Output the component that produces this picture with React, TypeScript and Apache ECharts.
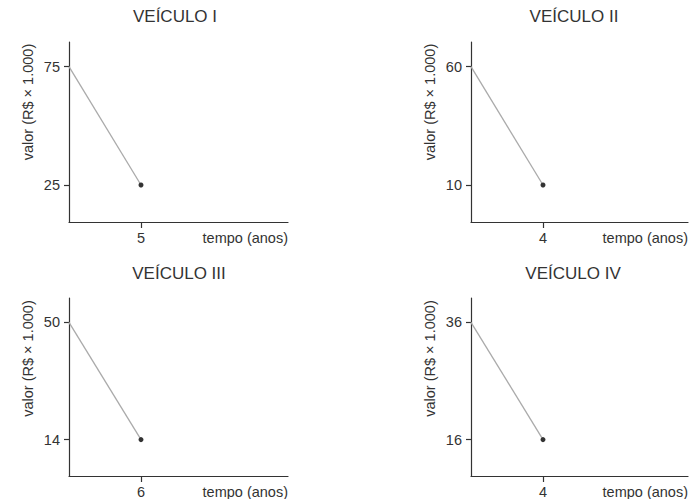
import React, { useEffect, useRef } from "react";
import * as echarts from "echarts";

const titles = ["VEÍCULO I", "VEÍCULO II", "VEÍCULO III", "VEÍCULO IV"];
const initialValues = [75, 60, 50, 36];
const finalValues = [25, 10, 14, 16];
const years = [5, 4, 6, 4];
const xAxisName = "tempo (anos)";
const yAxisName = "valor (R$ × 1.000)";

const gridLefts = [69, 471, 69, 471];
const gridTops = [42, 42, 298, 298];
const gridWidths = [219, 217, 219, 217];
const gridHeights = [180, 180, 181, 181];
const titleCenters = [175, 574, 179, 573];
const titleTops = [8, 8, 265, 265];

const FONT = "'Liberation Sans', Arial, sans-serif";
const TXT = "#333";
const TICK_PX = 72; // pixel distance of x tick from origin
const TOP_OFF = 24.7; // hi tick offset from grid top
const BOT_OFF = 37; // lo tick offset from grid bottom

export default function App() {
  const ref = useRef<HTMLDivElement>(null);
  useEffect(() => {
    document.body.style.margin = "0";
    const chart = echarts.init(ref.current!, null, { renderer: "svg" });
    const grids: any[] = [];
    const xAxes: any[] = [];
    const yAxes: any[] = [];
    const series: any[] = [];
    const title: any[] = [];
    const graphic: any[] = [];
    titles.forEach((t, i) => {
      const hi = initialValues[i];
      const lo = finalValues[i];
      const yr = years[i];
      const w = gridWidths[i];
      const h = gridHeights[i];
      const spanPx = h - TOP_OFF - BOT_OFF;
      const unit = (hi - lo) / spanPx;
      grids.push({ left: gridLefts[i], top: gridTops[i], width: w, height: h, containLabel: false });
      xAxes.push({
        type: "value",
        gridIndex: i,
        min: 0,
        max: (yr * w) / TICK_PX,
        splitLine: { show: false },
        axisLine: { show: true, onZero: false, lineStyle: { color: TXT, width: 1.2 } },
        axisTick: { show: true, length: 6, customValues: [yr], lineStyle: { color: TXT, width: 1.2 } },
        axisLabel: { customValues: [yr], color: TXT, fontSize: 14.5, fontFamily: FONT, margin: 8 },
        name: xAxisName,
        nameLocation: "end",
        nameGap: 0,
        nameTextStyle: {
          color: TXT,
          fontSize: 14.5,
          fontFamily: FONT,
          align: "right",
          verticalAlign: "top",
          padding: [8, 0, 0, 0],
        },
      });
      yAxes.push({
        type: "value",
        gridIndex: i,
        min: lo - BOT_OFF * unit,
        max: hi + TOP_OFF * unit,
        splitLine: { show: false },
        axisLine: { show: true, onZero: false, lineStyle: { color: TXT, width: 1.2 } },
        axisTick: { show: true, length: 5, customValues: [lo, hi], lineStyle: { color: TXT, width: 1.2 } },
        axisLabel: { customValues: [lo, hi], color: TXT, fontSize: 14.5, fontFamily: FONT, margin: 9 },
      });
      series.push({
        type: "line",
        xAxisIndex: i,
        yAxisIndex: i,
        symbol: "circle",
        symbolSize: 5,
        showSymbol: true,
        itemStyle: { color: TXT },
        lineStyle: { color: "#aaa", width: 1.3 },
        data: [
          { value: [0, hi], symbol: "none" },
          { value: [yr, lo] },
        ],
      });
      title.push({
        text: t,
        left: titleCenters[i],
        top: titleTops[i],
        textAlign: "center",
        padding: 0,
        textStyle: { color: TXT, fontSize: 17, fontWeight: "normal", fontFamily: FONT },
      });
      graphic.push({
        type: "text",
        x: gridLefts[i] - 41,
        y: gridTops[i] + h / 2 - 30,
        rotation: Math.PI / 2,
        style: {
          text: yAxisName,
          fill: TXT,
          fontSize: 14.5,
          fontFamily: FONT,
          textAlign: "center",
          textVerticalAlign: "middle",
        },
      });
    });
    chart.setOption({
      animation: false,
      backgroundColor: "#fff",
      title,
      grid: grids,
      xAxis: xAxes,
      yAxis: yAxes,
      series,
      graphic,
    });
    return () => chart.dispose();
  }, []);
  return <div ref={ref} style={{ width: 689, height: 499 }} />;
}
